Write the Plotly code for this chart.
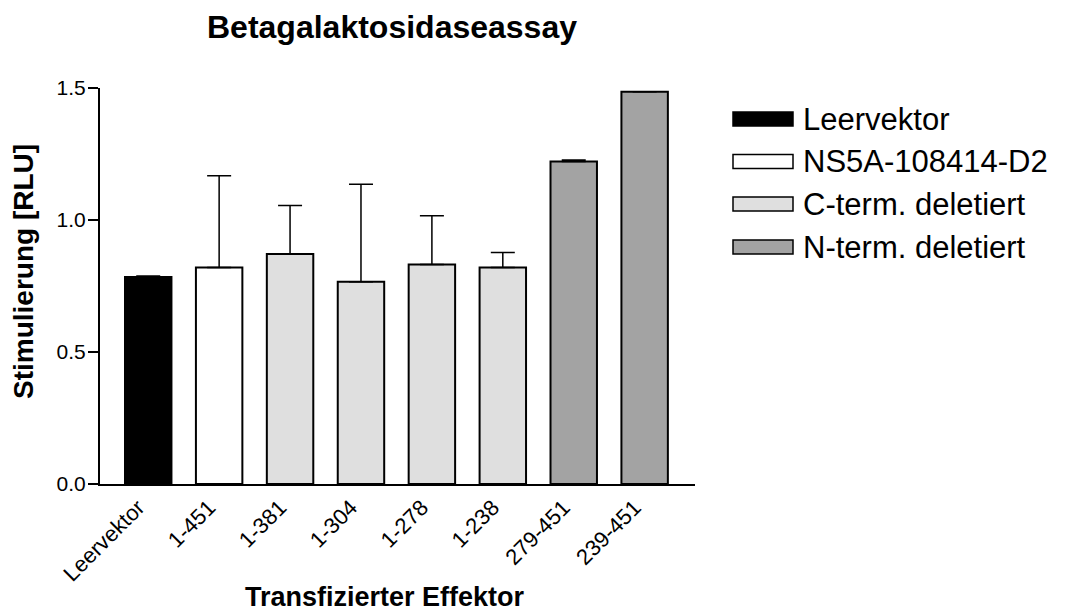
import plotly.graph_objects as go

# Data: mean stimulation (RLU) and upper error per transfected effector
categories = ["Leervektor", "1-451", "1-381", "1-304", "1-278", "1-238", "279-451", "239-451"]
groups = ["Leervektor", "NS5A-108414-D2", "C-term. deletiert", "C-term. deletiert",
          "C-term. deletiert", "C-term. deletiert", "N-term. deletiert", "N-term. deletiert"]
means = [0.784, 0.820, 0.871, 0.766, 0.831, 0.820, 1.222, 1.486]
err_upper = [0.004, 0.348, 0.184, 0.369, 0.185, 0.057, 0.005, 0.0]

legend_labels = ["Leervektor", "NS5A-108414-D2", "C-term. deletiert", "N-term. deletiert"]
group_colors = {
    "Leervektor": "#000000",
    "NS5A-108414-D2": "#ffffff",
    "C-term. deletiert": "#dfdfdf",
    "N-term. deletiert": "#a3a3a3",
}

FONT = "Liberation Sans, Arial, Helvetica, sans-serif"
W, H = 1067, 612
ML, MR, MT, MB = 100, 372, 88, 128
PW, PH = W - ML - MR, H - MT - MB


def px_x(x):
    return (x - ML) / PW


def px_y(y):
    return (H - MB - y) / PH


fig = go.Figure()
fig.add_trace(go.Bar(
    x=categories,
    y=means,
    width=[0.655] * len(categories),
    marker=dict(color=[group_colors[g] for g in groups],
                line=dict(color="#000000", width=2)),
    error_y=dict(type="data", symmetric=False, array=err_upper,
                 arrayminus=[0] * len(err_upper),
                 color="#000000", thickness=1.5, width=12),
    showlegend=False,
))

# Legend drawn as swatches + labels to the right of the plot
shapes = []
annotations = []
row_y = [119, 161.5, 204, 247]
for label, yc in zip(legend_labels, row_y):
    shapes.append(dict(type="rect", xref="paper", yref="paper",
                       x0=px_x(733), x1=px_x(793), y0=px_y(yc + 7), y1=px_y(yc - 7),
                       fillcolor=group_colors[label],
                       line=dict(color="#000000", width=1.5)))
    annotations.append(dict(text=label, xref="paper", yref="paper",
                            x=px_x(801), y=px_y(yc), xanchor="left", yanchor="middle",
                            showarrow=False, font=dict(family=FONT, size=31, color="#000000")))

annotations.append(dict(text="<b>Betagalaktosidaseassay</b>", xref="paper", yref="paper",
                        x=px_x(392), y=px_y(27), xanchor="center", yanchor="middle",
                        showarrow=False, font=dict(family=FONT, size=32, color="#000000")))
annotations.append(dict(text="<b>Transfizierter Effektor</b>", xref="paper", yref="paper",
                        x=px_x(385), y=px_y(597), xanchor="center", yanchor="middle",
                        showarrow=False, font=dict(family=FONT, size=27, color="#000000")))
annotations.append(dict(text="<b>Stimulierung [RLU]</b>", xref="paper", yref="paper",
                        x=px_x(23), y=px_y(271), xanchor="center", yanchor="middle",
                        textangle=-90, showarrow=False,
                        font=dict(family=FONT, size=28, color="#000000")))

fig.update_layout(
    width=W, height=H,
    margin=dict(l=ML, r=MR, t=MT, b=MB, pad=0),
    paper_bgcolor="#ffffff", plot_bgcolor="#ffffff",
    font=dict(family=FONT, color="#000000"),
    shapes=shapes,
    annotations=annotations,
    bargap=0.345,
)
fig.update_xaxes(
    range=[-0.68, 7.71], showline=True, linecolor="#000000", linewidth=2,
    ticks="", tickangle=-45, tickfont=dict(family=FONT, size=22, color="#000000"),
    ticklabelshift=-10,
    showgrid=False, zeroline=False,
)
fig.update_yaxes(
    range=[0, 1.5], showline=True, linecolor="#000000", linewidth=2,
    ticks="outside", ticklen=10, tickwidth=2, tickcolor="#000000",
    tickvals=[0, 0.5, 1.0, 1.5], ticktext=["0.0", "0.5", "1.0", "1.5"],
    tickfont=dict(family=FONT, size=21, color="#000000"),
    ticklabelstandoff=-2,
    showgrid=False, zeroline=False,
)

fig.write_html("out.html")
